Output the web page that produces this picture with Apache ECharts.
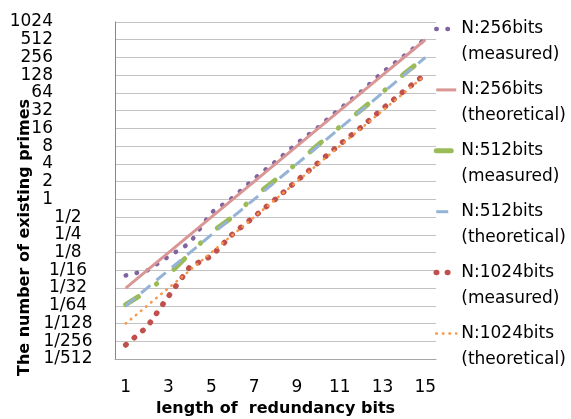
<!DOCTYPE html>
<html><head><meta charset="utf-8">
<script src="https://cdn.jsdelivr.net/npm/echarts@6/dist/echarts.min.js"></script>
<style>html,body{margin:0;padding:0;background:#fff}#c{width:571px;height:419px}</style>
</head><body><div id="c"></div>
<script>
// ---- data ----
const categories = ['1','2','3','4','5','6','7','8','9','10','11','12','13','14','15'];
const yTickLabels = ['1/512','1/256','1/128','1/64','1/32','1/16','1/8','1/4','1/2',
                     '1','2','4','8','16','32','64','128','256','512','1024'];
const seriesNames = ['N:256bits\n(measured)','N:256bits\n(theoretical)','N:512bits\n(measured)',
                     'N:512bits\n(theoretical)','N:1024bits\n(measured)','N:1024bits\n(theoretical)'];
const n256Measured    = [0.051, 0.062, 0.107, 0.182, 0.595, 1.07, 2.24, 4.38, 8.88, 16.8, 34.3, 67.2, 143, 272, 530];
const n256Theoretical = [0.03125, 0.0625, 0.125, 0.25, 0.5, 1, 2, 4, 8, 16, 32, 64, 128, 256, 512];
const n512Measured    = [0.0163, 0.0276, 0.0529, 0.120, 0.274, 0.504, 1.11, 2.14, 4.08, 8.46, 17.0, 32.9, 66.3, 134, 258];
const n512Theoretical = [0.015625, 0.03125, 0.0625, 0.125, 0.25, 0.5, 1, 2, 4, 8, 16, 32, 64, 128, 256];
const n1024Measured   = [0.00338, 0.00685, 0.0227, 0.0718, 0.109, 0.259, 0.507, 1.01, 2.07, 4.20, 8.57, 16.7, 34.5, 68.6, 133];
const n1024Theoretical= [0.0078125, 0.015625, 0.03125, 0.0625, 0.125, 0.25, 0.5, 1, 2, 4, 8, 16, 32, 64, 128];

// ---- chart ----
const FONT = 'DejaVu Sans';
const toLog2 = arr => arr.map(v => Math.log2(v));
const chart = echarts.init(document.getElementById('c'), null, {renderer: 'canvas'});

function lineSeries(name, data, color, width, dash, cap) {
  return {
    name: name, type: 'line', data: toLog2(data), symbol: 'none', silent: true,
    lineStyle: {color: color, width: width, type: dash, cap: cap || 'butt'},
    itemStyle: {color: color}
  };
}

chart.setOption({
  animation: false,
  backgroundColor: '#fff',
  grid: {left: 115, right: 135, top: 22, bottom: 60, outerBoundsMode: 'none'},
  xAxis: {
    type: 'category', data: categories, boundaryGap: true,
    axisLine: {show: true, onZero: false, lineStyle: {color: '#a6a6a6', width: 1}},
    axisTick: {show: false},
    axisLabel: {interval: 1, margin: 20, fontFamily: FONT, fontSize: 17, color: '#000'},
    splitLine: {show: false},
    name: 'length of  redundancy bits', nameLocation: 'middle', nameGap: 40,
    nameTextStyle: {fontFamily: FONT, fontSize: 16, fontWeight: 'bold', color: '#000'}
  },
  yAxis: {
    type: 'value', min: -9, max: 10, interval: 1,
    axisLine: {show: true, lineStyle: {color: '#868686', width: 1}},
    axisTick: {show: false},
    splitLine: {show: true, lineStyle: {color: '#c3c3c3', width: 1}},
    axisLabel: {
      margin: 15, fontFamily: FONT, fontSize: 17, color: '#000',
      formatter: function (v) {
        const t = yTickLabels[Math.round(v) + 9];
        return v >= 0 ? '{i|' + t + '}{g| }' : '{f|' + t + '}';
      },
      rich: {
        i: {fontFamily: FONT, fontSize: 17, color: '#000'},
        g: {fontFamily: FONT, fontSize: 17, width: 47},
        f: {fontFamily: FONT, fontSize: 17, color: '#000', width: 64, align: 'center'}
      }
    },
    name: 'The number of existing primes', nameLocation: 'middle', nameGap: 82,
    nameMoveOverlap: false,
    nameTextStyle: {fontFamily: FONT, fontSize: 16, fontWeight: 'bold', color: '#000', padding: [0, 94, 0, 0]}
  },
  legend: {
    orient: 'vertical', left: 428.5, top: -10.5, padding: 5, itemWidth: 20, itemHeight: 14, itemGap: -8.1,
    selectedMode: false,
    formatter: function (name) {
      return '{e| }\n' + name.split('\n').map(function (s) { return '{a|' + s + '}'; }).join('\n');
    },
    textStyle: {
      fontFamily: FONT, fontSize: 17, color: '#000',
      rich: {
        e: {fontFamily: FONT, fontSize: 17, lineHeight: 26},
        a: {fontFamily: FONT, fontSize: 17, lineHeight: 26, color: '#000'}
      }
    },
    lineStyle: {width: 'inherit'},
    itemStyle: {opacity: 0},
    data: seriesNames
  },
  series: [
    lineSeries(seriesNames[0], n256Measured, '#8064A2', 4.5, [0.5, 10.7], 'round'),
    lineSeries(seriesNames[1], n256Theoretical, '#D99694', 3, 'solid', 'butt'),
    lineSeries(seriesNames[2], n512Measured, '#9BBB59', 5, [15, 22, 0.5, 22.5], 'round'),
    lineSeries(seriesNames[3], n512Theoretical, '#95B3D7', 3, [12, 8], 'butt'),
    lineSeries(seriesNames[4], n1024Measured, '#C0504D', 5.5, [0.5, 10.6], 'round'),
    lineSeries(seriesNames[5], n1024Theoretical, '#F79646', 2.5, [0.6, 6.0], 'round')
  ]
});
</script>
</body></html>
